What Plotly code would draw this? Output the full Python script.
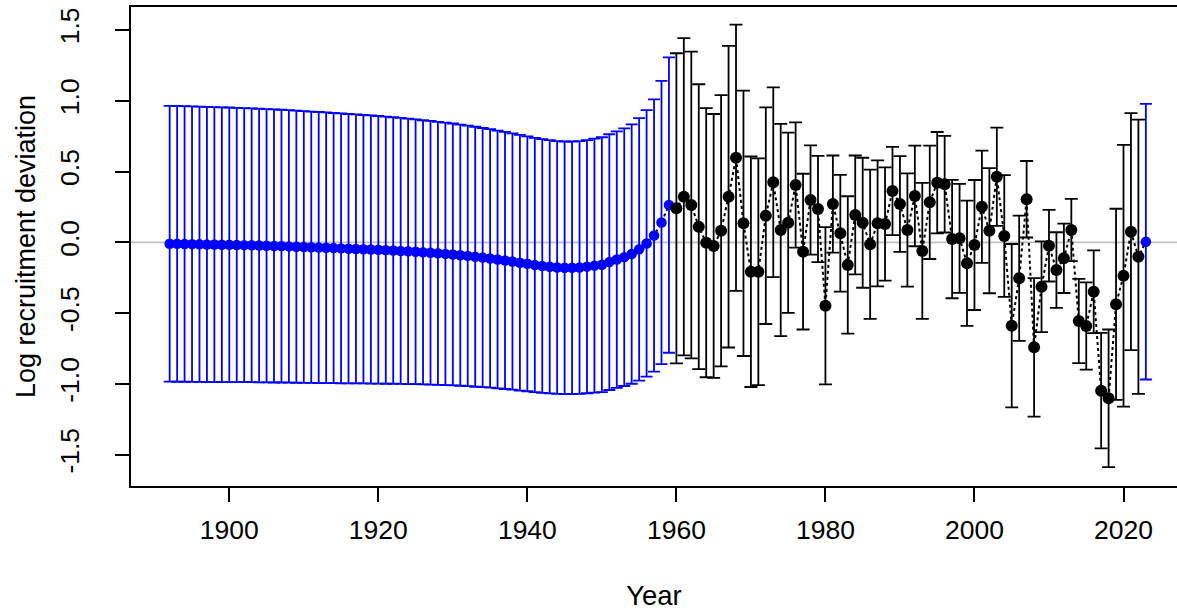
import plotly.graph_objects as go

# ---- data ----
early_years = list(range(1892, 1960))
early_dev = [
    -0.010, -0.011, -0.012, -0.013, -0.014, -0.015, -0.016, -0.017, -0.018, -0.019,
    -0.020, -0.021, -0.023, -0.024, -0.026, -0.027, -0.029, -0.031, -0.033, -0.035,
    -0.037, -0.039, -0.041, -0.043, -0.045, -0.047, -0.049, -0.051, -0.053, -0.056,
    -0.058, -0.061, -0.064, -0.067, -0.071, -0.074, -0.078, -0.082, -0.086, -0.091,
    -0.096, -0.102, -0.108, -0.114, -0.121, -0.128, -0.136, -0.144, -0.152, -0.160,
    -0.167, -0.173, -0.178, -0.180, -0.180, -0.178, -0.172, -0.165, -0.158, -0.140,
    -0.122, -0.105, -0.083, -0.050, -0.008, 0.048, 0.140, 0.263,
]
early_ci = [
    0.974, 0.974, 0.973, 0.973, 0.972, 0.972, 0.971, 0.970, 0.970, 0.969,
    0.968, 0.967, 0.966, 0.965, 0.964, 0.963, 0.962, 0.961, 0.960, 0.958,
    0.957, 0.956, 0.954, 0.953, 0.951, 0.950, 0.948, 0.947, 0.945, 0.943,
    0.941, 0.939, 0.937, 0.935, 0.933, 0.931, 0.929, 0.927, 0.925, 0.922,
    0.920, 0.918, 0.915, 0.913, 0.910, 0.908, 0.905, 0.903, 0.900, 0.898,
    0.896, 0.894, 0.893, 0.892, 0.892, 0.893, 0.894, 0.897, 0.900, 0.903,
    0.906, 0.910, 0.916, 0.927, 0.941, 0.962, 1.000, 1.043,
]

main_years = list(range(1960, 2023))
main_dev = [
    0.240, 0.322, 0.263, 0.110, -0.003, -0.026, 0.082, 0.322, 0.597, 0.134,
    -0.208, -0.208, 0.188, 0.424, 0.087, 0.138, 0.405, -0.066, 0.299, 0.235,
    -0.448, 0.270, 0.064, -0.160, 0.193, 0.138, -0.014, 0.134, 0.129, 0.362,
    0.270, 0.087, 0.327, -0.061, 0.282, 0.421, 0.410, 0.023, 0.028, -0.148,
    -0.019, 0.251, 0.082, 0.463, 0.044, -0.589, -0.254, 0.304, -0.742, -0.314,
    -0.024, -0.196, -0.113, 0.087, -0.556, -0.591, -0.349, -1.048, -1.102, -0.438,
    -0.236, 0.075, -0.102,
]
main_ci = [
    1.095, 1.120, 1.083, 1.006, 0.950, 0.932, 0.958, 1.065, 0.940, 0.937,
    0.814, 0.800, 0.765, 0.670, 0.750, 0.637, 0.442, 0.550, 0.386, 0.375,
    0.555, 0.343, 0.412, 0.485, 0.420, 0.459, 0.527, 0.445, 0.400, 0.312,
    0.338, 0.400, 0.355, 0.480, 0.400, 0.358, 0.341, 0.418, 0.385, 0.442,
    0.459, 0.396, 0.442, 0.347, 0.430, 0.577, 0.442, 0.270, 0.489, 0.320,
    0.253, 0.267, 0.245, 0.220, 0.297, 0.308, 0.292, 0.408, 0.486, 0.675,
    0.924, 0.837, 0.968,
]

late_years = [2023]
late_dev = [0.004]
late_ci = [0.973]

x_ticks = [1900, 1920, 1940, 1960, 1980, 2000, 2020]
y_ticks = [-1.5, -1.0, -0.5, 0.0, 0.5, 1.0, 1.5]
y_tick_text = ["-1.5", "-1.0", "-0.5", "0.0", "0.5", "1.0", "1.5"]

FONT = "Liberation Sans, Arial, sans-serif"
BLUE = "#0000FF"

all_years = early_years + main_years + late_years
all_dev = early_dev + main_dev + late_dev

fig = go.Figure()

# dotted connecting line
fig.add_trace(go.Scatter(
    x=all_years, y=all_dev, mode="lines",
    line=dict(color="black", width=2, dash="dot"),
    hoverinfo="skip", showlegend=False,
))

# early / late (blue) deviations
fig.add_trace(go.Scatter(
    x=early_years + late_years, y=early_dev + late_dev, mode="markers",
    marker=dict(color=BLUE, size=10.5),
    error_y=dict(type="data", array=early_ci + late_ci, symmetric=True,
                 color=BLUE, thickness=1.8, width=6),
    showlegend=False,
))

# main (black) deviations
fig.add_trace(go.Scatter(
    x=main_years, y=main_dev, mode="markers",
    marker=dict(color="black", size=12),
    error_y=dict(type="data", array=main_ci, symmetric=True,
                 color="black", thickness=1.8, width=6.5),
    showlegend=False,
))

# zero reference line
fig.add_shape(type="line", xref="paper", yref="y", x0=0, x1=1, y0=0, y1=0,
              line=dict(color="#BEBEBE", width=1.8), layer="below")

fig.update_layout(
    width=1177, height=611,
    margin=dict(l=131, r=0, t=7, b=125, pad=0, autoexpand=False),
    paper_bgcolor="white", plot_bgcolor="white",
    font=dict(family=FONT, size=26, color="black"),
    xaxis=dict(
        range=[1886.81, 2027.18], tickmode="array", tickvals=x_ticks,
        ticks="outside", ticklen=14, tickwidth=1.5, tickcolor="black",
        showline=True, linecolor="black", linewidth=1.5, mirror=True,
        showgrid=False, zeroline=False, automargin=False,
        tickfont=dict(size=26.5), ticklabelstandoff=5,
        title=dict(text="Year", font=dict(size=27.5), standoff=46),
    ),
    yaxis=dict(
        range=[-1.7211, 1.6617], tickmode="array", tickvals=y_ticks,
        ticktext=y_tick_text, tickangle=-90,
        ticks="outside", ticklen=14, tickwidth=1.5, tickcolor="black",
        showline=True, linecolor="black", linewidth=1.5, mirror=False,
        showgrid=False, zeroline=False, automargin=False,
        tickfont=dict(size=26.5), ticklabelstandoff=26,
        title=dict(text="Log recruitment deviation", font=dict(size=27), standoff=11),
    ),
)

fig.write_html(
    "out.html",
    config={"displayModeBar": False},
    post_script="document.body.style.margin='0';document.body.style.overflow='hidden';",
)
